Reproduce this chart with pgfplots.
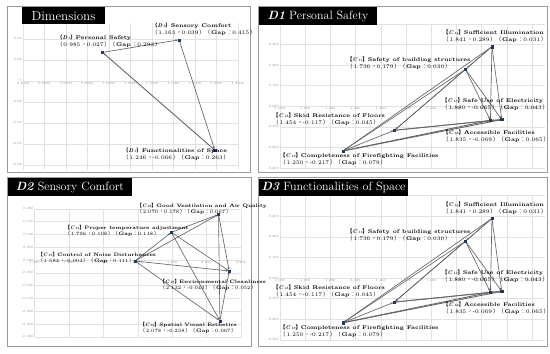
\documentclass[border=0pt]{standalone}
\usepackage{fontspec}
\usepackage{pgfplots}
\pgfplotsset{compat=1.18}
\usetikzlibrary{arrows.meta}
\newfontfamily\cjk{Noto Sans CJK TC}
\definecolor{ptc}{HTML}{1F3864}
\definecolor{edgec}{HTML}{666666}
\definecolor{frm}{HTML}{9A9A9A}
\definecolor{grd}{HTML}{E2E2E2}
\definecolor{tck}{HTML}{8C8C8C}
\newcommand{\sub}[1]{{\fontsize{3.4}{4}\selectfont\textit{#1}}}
\newcommand{\lb}{{\cjk 【}}
\newcommand{\rb}{{\cjk 】}}
\newcommand{\lp}{{\cjk （}}
\newcommand{\rp}{{\cjk ）}}
\newcommand{\cm}{{\cjk ，}}
\newcommand{\cl}{{\cjk ：}}
\newcommand{\vals}[3]{\lp\,#1\,\cm#2\,\rp\lp\,\textbf{Gap}\,\cl#3\,\rp}
\pgfplotsset{
  panel/.style={
    scale only axis, clip=false, anchor=south west,
    axis x line=middle, axis y line=left,
    axis line style={-, draw=grd, line width=0.5pt},
    hide obscured x ticks=false, hide obscured y ticks=false,
    grid=major, major grid style={draw=grd, line width=0.4pt},
    major tick length=0pt,
    ticklabel style={font=\fontsize{3.2}{3.6}\selectfont, text=tck, inner sep=1pt},
  },
  edge/.style={draw=edgec, line width=0.65pt, -{Stealth[length=2.4pt,width=2pt]}, shorten >=1.2pt, forget plot},
  pts/.style={only marks, mark=square*, mark size=1.1pt, color=ptc},
}
\begin{document}
\begin{tikzpicture}
% ---------------- Panel 1: Dimensions
\begin{axis}[panel, at={(23pt,184pt)}, width=215pt, height=147pt,
  xmin=0.8, xmax=1.3, ymin=-0.085, ymax=0.055,
  xtick={0.8,0.85,0.9,0.95,1.0,1.05,1.1,1.15,1.2,1.25,1.3},
  xticklabels={0.8000,0.8500,0.9000,0.9500,1.0000,1.0500,1.1000,1.1500,1.2000,1.2500,1.3000},
  ytick={-0.08,-0.06,-0.04,-0.02,0,0.02,0.04},
  yticklabels={-0.08,-0.06,-0.04,-0.02,0,0.02,0.04}]
\addplot[edge] coordinates {(0.985,0.027) (1.163,0.039)};
\addplot[edge] coordinates {(1.163,0.039) (1.246,-0.066)};
\addplot[edge, line width=0.9pt] coordinates {(1.246,-0.066) (0.985,0.027)};
\addplot[pts] coordinates {(0.985,0.027) (1.163,0.039) (1.246,-0.066)};
\end{axis}
% ---------------- Panel 2: D1
\begin{axis}[panel, at={(280pt,186pt)}, width=264.6pt, height=144.2pt,
  xmin=1.0, xmax=2.05, ymin=-0.3, ymax=0.4,
  xtick={1.0,1.1,1.2,1.3,1.4,1.5,1.6,1.7,1.8,1.9,2.0},
  xticklabels={1.000,1.100,1.200,1.300,1.400,1.500,1.600,1.700,1.800,1.900,2.000},
  ytick={-0.3,-0.2,-0.1,0,0.1,0.2,0.3,0.4},
  yticklabels={-0.300,-0.200,-0.100,0.000,0.100,0.200,0.300,0.400}]
\addplot[edge] coordinates {(1.841,0.289) (1.250,-0.217)};
\addplot[edge] coordinates {(1.841,0.289) (1.454,-0.117)};
\addplot[edge] coordinates {(1.841,0.289) (1.880,-0.065)};
\addplot[edge] coordinates {(1.841,0.289) (1.835,-0.069)};
\addplot[edge] coordinates {(1.841,0.289) (1.736,0.179)};
\addplot[edge] coordinates {(1.736,0.179) (1.250,-0.217)};
\addplot[edge] coordinates {(1.736,0.179) (1.454,-0.117)};
\addplot[edge] coordinates {(1.736,0.179) (1.880,-0.065)};
\addplot[edge] coordinates {(1.736,0.179) (1.835,-0.069)};
\addplot[edge, line width=0.9pt] coordinates {(1.250,-0.217) (1.880,-0.065)};
\addplot[edge, line width=0.9pt] coordinates {(1.250,-0.217) (1.835,-0.069)};
\addplot[edge, line width=0.9pt] coordinates {(1.454,-0.117) (1.880,-0.065)};
\addplot[edge] coordinates {(1.454,-0.117) (1.835,-0.069)};
\addplot[edge] coordinates {(1.250,-0.217) (1.454,-0.117)};
\addplot[edge] coordinates {(1.880,-0.065) (1.835,-0.069)};
\addplot[pts] coordinates {(1.736,0.179) (1.250,-0.217) (1.880,-0.065) (1.841,0.289) (1.454,-0.117) (1.835,-0.069)};
\end{axis}
% ---------------- Panel 3: D2
\begin{axis}[panel, at={(34.5pt,17.2pt)}, width=206.4pt, height=128pt,
  xmin=1.0, xmax=2.2, ymin=-0.3, ymax=0.2,
  xtick={1.0,1.2,1.4,1.6,1.8,2.0,2.2},
  xticklabels={1.000,1.200,1.400,1.600,1.800,2.000,2.200},
  ytick={-0.3,-0.25,-0.2,-0.15,-0.1,-0.05,0,0.05,0.1,0.15,0.2},
  yticklabels={-0.300,-0.250,-0.200,-0.150,-0.100,-0.050,0.000,0.050,0.100,0.150,0.200}]
\addplot[edge] coordinates {(1.584,-0.004) (2.070,0.178)};
\addplot[edge] coordinates {(1.584,-0.004) (1.796,0.108)};
\addplot[edge] coordinates {(1.584,-0.004) (2.132,-0.043)};
\addplot[edge] coordinates {(1.584,-0.004) (2.078,-0.238)};
\addplot[edge] coordinates {(1.796,0.108) (2.070,0.178)};
\addplot[edge] coordinates {(1.796,0.108) (2.132,-0.043)};
\addplot[edge] coordinates {(1.796,0.108) (2.078,-0.238)};
\addplot[edge] coordinates {(2.070,0.178) (2.132,-0.043)};
\addplot[edge] coordinates {(2.070,0.178) (2.078,-0.238)};
\addplot[edge] coordinates {(2.078,-0.238) (2.132,-0.043)};
\addplot[pts] coordinates {(1.796,0.108) (2.070,0.178) (1.584,-0.004) (2.078,-0.238) (2.132,-0.043)};
\end{axis}
% ---------------- Panel 4: D3
\begin{axis}[panel, at={(280pt,14.2pt)}, width=264.6pt, height=144.2pt,
  xmin=1.0, xmax=2.05, ymin=-0.3, ymax=0.4,
  xtick={1.0,1.1,1.2,1.3,1.4,1.5,1.6,1.7,1.8,1.9,2.0},
  xticklabels={1.000,1.100,1.200,1.300,1.400,1.500,1.600,1.700,1.800,1.900,2.000},
  ytick={-0.3,-0.2,-0.1,0,0.1,0.2,0.3,0.4},
  yticklabels={-0.300,-0.200,-0.100,0.000,0.100,0.200,0.300,0.400}]
\addplot[edge] coordinates {(1.841,0.289) (1.250,-0.217)};
\addplot[edge] coordinates {(1.841,0.289) (1.454,-0.117)};
\addplot[edge] coordinates {(1.841,0.289) (1.880,-0.065)};
\addplot[edge] coordinates {(1.841,0.289) (1.835,-0.069)};
\addplot[edge] coordinates {(1.841,0.289) (1.736,0.179)};
\addplot[edge] coordinates {(1.736,0.179) (1.250,-0.217)};
\addplot[edge] coordinates {(1.736,0.179) (1.454,-0.117)};
\addplot[edge] coordinates {(1.736,0.179) (1.880,-0.065)};
\addplot[edge] coordinates {(1.736,0.179) (1.835,-0.069)};
\addplot[edge, line width=0.9pt] coordinates {(1.250,-0.217) (1.880,-0.065)};
\addplot[edge, line width=0.9pt] coordinates {(1.250,-0.217) (1.835,-0.069)};
\addplot[edge, line width=0.9pt] coordinates {(1.454,-0.117) (1.880,-0.065)};
\addplot[edge] coordinates {(1.454,-0.117) (1.835,-0.069)};
\addplot[edge] coordinates {(1.250,-0.217) (1.454,-0.117)};
\addplot[edge] coordinates {(1.880,-0.065) (1.835,-0.069)};
\addplot[pts] coordinates {(1.736,0.179) (1.250,-0.217) (1.880,-0.065) (1.841,0.289) (1.454,-0.117) (1.835,-0.069)};
\end{axis}
% ---------------- frames, titles, labels (pixel coordinates)
\begin{scope}[x=1pt, y=-1pt, shift={(0pt,354pt)}]
\draw[frm, line width=1pt] (7,7) rectangle (250,173);
\draw[frm, line width=1pt] (258,7) rectangle (547,173);
\draw[frm, line width=1pt] (7,178) rectangle (251,347);
\draw[frm, line width=1pt] (258,178) rectangle (547,347);
\fill[black] (22,7) rectangle (105,24);
\node[white, font=\fontsize{13}{13}\selectfont] at (63.5,15.8) {Dimensions};
\fill[black] (259,7) rectangle (377,25);
\node[white, font=\fontsize{12}{12}\selectfont] at (318,16.3) {\textbf{\textit{D1}} Personal Safety};
\fill[black] (8,178) rectangle (132,196);
\node[white, font=\fontsize{12}{12}\selectfont] at (70,187.3) {\textbf{\textit{D2}} Sensory Comfort};
\fill[black] (259,179) rectangle (408,196);
\node[white, font=\fontsize{12}{12}\selectfont] at (333.5,187.8) {\textbf{\textit{D3}} Functionalities of Space};
\tikzset{lab/.style={anchor=north west, inner sep=0pt, align=left, font=\fontsize{5.4}{7}\selectfont},
         labs/.style={anchor=north west, inner sep=0pt, align=left, font=\fontsize{4.9}{6.4}\selectfont}}
% panel 1
\node[lab] at (57,35) {\textbf{\lp\textit{D}\,\sub{1}\rp Personal Safety}\\\vals{0.985}{0.027}{0.293}};
\node[lab] at (152,23) {\textbf{\lp\textit{D}\,\sub{2}\rp Sensory Comfort}\\\vals{1.163}{0.039}{0.415}};
\node[lab] at (123,148) {\textbf{\lp\textit{D}\,\sub{3}\rp Functionalities of Space}\\\vals{1.246}{-0.066}{0.263}};
% panel 2 and panel 4
\foreach \dy in {0,172}{
\node[lab] at (443,30+\dy) {\textbf{\lb\textit{C}\,\sub{14}\rb Sufficient Illumination}\\\vals{1.841}{0.289}{0.031}};
\node[lab] at (347,57+\dy) {\textbf{\lb\textit{C}\,\sub{11}\rb Safety of building structures}\\\vals{1.736}{0.179}{0.030}};
\node[lab] at (442,98+\dy) {\textbf{\lb\textit{C}\,\sub{13}\rb Safe Use of Electricity}\\\vals{1.880}{-0.065}{0.043}};
\node[lab] at (273,113+\dy) {\textbf{\lb\textit{C}\,\sub{15}\rb Skid Resistance of Floors}\\\vals{1.454}{-0.117}{0.045}};
\node[lab] at (443,130+\dy) {\textbf{\lb\textit{C}\,\sub{16}\rb Accessible Facilities}\\\vals{1.835}{-0.069}{0.065}};
\node[lab] at (280,153+\dy) {\textbf{\lb\textit{C}\,\sub{12}\rb Completeness of Firefighting Facilities}\\\vals{1.250}{-0.217}{0.079}};
}
% panel 3
\node[labs] at (137,203) {\textbf{\lb\textit{C}\,\sub{22}\rb Good Ventilation and Air Quality}\\\vals{2.070}{0.178}{0.067}};
\node[labs] at (65,225) {\textbf{\lb\textit{C}\,\sub{21}\rb Proper temperature adjustment}\\\vals{1.796}{0.108}{0.118}};
\node[labs] at (38,252) {\textbf{\lb\textit{C}\,\sub{23}\rb Control of Noise Disturbances}\\\vals{1.584}{-0.004}{0.111}};
\node[labs] at (160,279) {\textbf{\lb\textit{C}\,\sub{25}\rb Environmental Cleanliness}\\\vals{2.132}{-0.043}{0.052}};
\node[labs] at (140,322) {\textbf{\lb\textit{C}\,\sub{24}\rb Spatial Visual Esthetics}\\\vals{2.078}{-0.238}{0.067}};
\end{scope}
\useasboundingbox (0,0) rectangle (550pt,354pt);
\end{tikzpicture}
\end{document}
